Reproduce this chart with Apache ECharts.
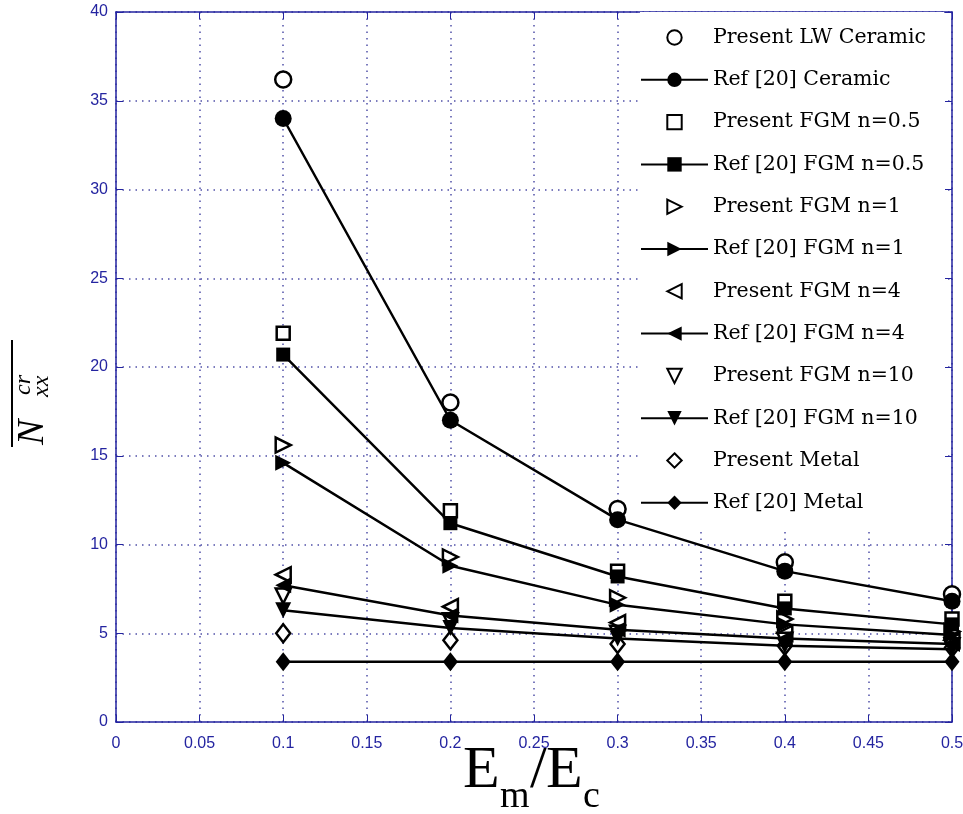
<!DOCTYPE html>
<html>
<head>
<meta charset="utf-8">
<title>Critical buckling load vs Em/Ec</title>
<script src="https://cdn.jsdelivr.net/npm/echarts@6/dist/echarts.min.js"></script>
<style>
  html, body { margin: 0; padding: 0; background: #fff; }
  #main { width: 963px; height: 814px; }
</style>
</head>
<body>
<div id="main"></div>
<script>
// Em/Ec ratios
var ratio = [0.1, 0.2, 0.3, 0.4, 0.5];

// values
var presentCeramic = [36.2, 18.0, 12.0, 9.0, 7.2];
var refCeramic     = [34.0, 17.0, 11.4, 8.5, 6.8];
var presentFgm05   = [21.9, 11.9, 8.5, 6.8, 5.8];
var refFgm05       = [20.7, 11.2, 8.2, 6.4, 5.5];
var presentFgm1    = [15.6, 9.3, 7.0, 5.8, 5.1];
var refFgm1        = [14.6, 8.8, 6.6, 5.5, 4.9];
var presentFgm4    = [8.3, 6.5, 5.6, 5.0, 4.6];
var refFgm4        = [7.7, 6.0, 5.2, 4.7, 4.4];
var presentFgm10   = [7.1, 5.7, 5.0, 4.6, 4.3];
var refFgm10       = [6.3, 5.3, 4.7, 4.3, 4.1];
var presentMetal   = [5.0, 4.6, 4.4, 4.3, 4.2];
var refMetal       = [3.4, 3.4, 3.4, 3.4, 3.4];

var navy = '#2424a0';
var gridColor = '#5050a8';

function pairs(vals) {
    return vals.map(function (v, i) { return [ratio[i], v]; });
}

// present results = open markers only (line hidden), reference = filled markers + line
function present(name, vals, symbol, rot, size) {
    return {
        name: name, type: 'line', data: pairs(vals),
        symbol: symbol, symbolRotate: rot, symbolSize: size,
        showAllSymbol: true,
        lineStyle: { color: '#000', width: 0, opacity: 0 },
        itemStyle: { color: '#fff', borderColor: '#000', borderWidth: 2.5 },
        z: 3
    };
}
function reference(name, vals, symbol, rot, size) {
    return {
        name: name, type: 'line', data: pairs(vals),
        symbol: symbol, symbolRotate: rot, symbolSize: size,
        showAllSymbol: true,
        lineStyle: { color: '#000', width: 2.5 },
        itemStyle: { color: '#000', borderColor: '#000', borderWidth: 0 },
        z: 4
    };
}

var series = [
    present('Present LW Ceramic', presentCeramic, 'circle', 0, 16),
    reference('Ref [20] Ceramic', refCeramic, 'circle', 0, 17),
    present('Present FGM n=0.5', presentFgm05, 'rect', 0, 13),
    reference('Ref [20] FGM n=0.5', refFgm05, 'rect', 0, 14),
    present('Present FGM n=1', presentFgm1, 'triangle', -90, 15),
    reference('Ref [20] FGM n=1', refFgm1, 'triangle', -90, 16),
    present('Present FGM n=4', presentFgm4, 'triangle', 90, 15),
    reference('Ref [20] FGM n=4', refFgm4, 'triangle', 90, 16),
    present('Present FGM n=10', presentFgm10, 'triangle', 180, 15),
    reference('Ref [20] FGM n=10', refFgm10, 'triangle', 180, 16),
    present('Present Metal', presentMetal, 'diamond', 0, [14, 18]),
    reference('Ref [20] Metal', refMetal, 'diamond', 0, [15, 19])
];

var chart = echarts.init(document.getElementById('main'));

var serifFont = '"Liberation Serif"';

var option = {
    animation: false,
    backgroundColor: '#fff',
    grid: { left: 116, right: 11, top: 12, bottom: 92, outerBoundsMode: 'none' },
    xAxis: [{
        type: 'value', min: 0, max: 0.5, interval: 0.05,
        axisLine: { onZero: false, lineStyle: { color: navy, width: 1.5 } },
        axisTick: { inside: true, length: 7, lineStyle: { color: navy } },
        axisLabel: { color: navy, fontFamily: 'Liberation Sans', fontSize: 16, margin: 14 },
        splitLine: { show: true, lineStyle: { color: gridColor, type: [1.5, 5], width: 1.5 } }
    }, {
        type: 'value', position: 'top', min: 0, max: 0.5, interval: 0.05,
        axisLine: { onZero: false, lineStyle: { color: navy, width: 1.5 } },
        axisTick: { inside: true, length: 7, lineStyle: { color: navy } },
        axisLabel: { show: false },
        splitLine: { show: false }
    }],
    yAxis: [{
        type: 'value', min: 0, max: 40, interval: 5,
        axisLine: { show: true, onZero: false, lineStyle: { color: navy, width: 1.5 } },
        axisTick: { show: true, inside: true, length: 7, lineStyle: { color: navy } },
        axisLabel: { color: navy, fontFamily: 'Liberation Sans', fontSize: 16, margin: 8 },
        splitLine: { show: true, lineStyle: { color: gridColor, type: [1.5, 5], width: 1.5 } }
    }, {
        type: 'value', position: 'right', min: 0, max: 40, interval: 5,
        axisLine: { show: true, onZero: false, lineStyle: { color: navy, width: 1.5 } },
        axisTick: { show: true, inside: true, length: 7, lineStyle: { color: navy } },
        axisLabel: { show: false },
        splitLine: { show: false }
    }],
    legend: {
        orient: 'vertical',
        left: 640, top: 12,
        padding: [15, 18, 14, 0],
        itemWidth: 67, itemHeight: 18,
        itemGap: 21.3,
        backgroundColor: '#fff',
        textStyle: { fontFamily: 'DejaVu Serif', fontSize: 20.5, color: '#000' },
        data: series.map(function (s) { return s.name; })
    },
    graphic: [{
        // y axis title: overline N, subscript xx, superscript cr (rotated)
        type: 'group', x: 12, y: 447, rotation: Math.PI / 2,
        children: [
            { type: 'line', shape: { x1: 0, y1: 0, x2: 107, y2: 0 }, style: { stroke: '#000', lineWidth: 2 } },
            { type: 'text', x: 2, y: 2, style: { text: 'N', font: 'italic 38px ' + serifFont, fill: '#000', verticalAlign: 'top' } },
            { type: 'text', x: 52, y: 0, style: { text: 'cr', font: 'italic 24px ' + serifFont, fill: '#000', verticalAlign: 'top' } },
            { type: 'text', x: 50, y: 18, style: { text: 'xx', font: 'italic 24px ' + serifFont, fill: '#000', verticalAlign: 'top' } }
        ]
    }, {
        // x axis title: E_m / E_c
        type: 'group', x: 0, y: 0,
        children: [
            { type: 'text', x: 463, y: 801, style: { text: 'E', font: '60px ' + serifFont, fill: '#000', verticalAlign: 'bottom' } },
            { type: 'text', x: 500, y: 816, style: { text: 'm', font: '38px ' + serifFont, fill: '#000', verticalAlign: 'bottom' } },
            { type: 'text', x: 530, y: 801, style: { text: '/', font: '60px ' + serifFont, fill: '#000', verticalAlign: 'bottom' } },
            { type: 'text', x: 546, y: 801, style: { text: 'E', font: '60px ' + serifFont, fill: '#000', verticalAlign: 'bottom' } },
            { type: 'text', x: 583, y: 816, style: { text: 'c', font: '38px ' + serifFont, fill: '#000', verticalAlign: 'bottom' } }
        ]
    }],
    series: series
};

chart.setOption(option);
</script>
</body>
</html>
